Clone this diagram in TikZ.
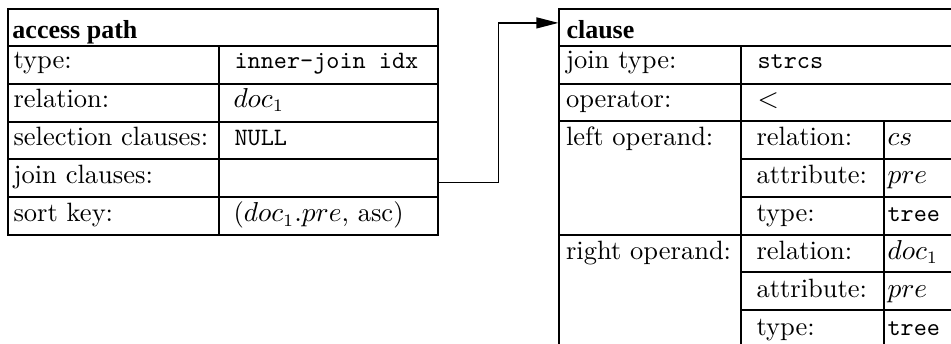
\documentclass[tikz,border=0pt]{standalone}
\usepackage{fontspec}
\newfontfamily\recheadfont{Liberation Serif}
\usetikzlibrary{fit,calc,arrows.meta}
\newcommand\valtt[1]{{\fontsize{10}{12}\selectfont\ttfamily #1}}
\tikzset{
  cell/.style={draw, line width=0.5pt, inner sep=0pt, rectangle},
  lbl/.style={anchor=base west, inner sep=0pt, font=\fontsize{10.6}{12}\selectfont},
  hdr/.style={lbl, font=\fontsize{10.4}{12}\selectfont\recheadfont\bfseries},
  link/.style={line width=0.5pt, -{Triangle[length=8.8pt,width=4.4pt]}}
}
\begin{document}
\begin{tikzpicture}[x=0.4pt,y=-0.4pt]
\useasboundingbox (0,0) rectangle (951,344);
\clip (0,0) rectangle (951,344);

% ---- access path record ----
\node[cell, fit={(8,9)(438,46)}]    (aphead) {};
\node[cell, fit={(8,46)(219,84)}]   (aptypek) {};
\node[cell, fit={(219,46)(438,84)}] (aptypev) {};
\node[cell, fit={(8,84)(219,122)}]   (aprelk) {};
\node[cell, fit={(219,84)(438,122)}] (aprelv) {};
\node[cell, fit={(8,122)(219,159)}]   (apselk) {};
\node[cell, fit={(219,122)(438,159)}] (apselv) {};
\node[cell, fit={(8,159)(219,197)}]   (apjoink) {};
\node[cell, fit={(219,159)(438,197)}] (apjoinv) {};
\node[cell, fit={(8,197)(219,235)}]   (apsortk) {};
\node[cell, fit={(219,197)(438,235)}] (apsortv) {};

\node[hdr] (t-ap) at (12,38.5) {access path};
\node[lbl] (t-aptype) at (13,69) {type:};
\node[lbl] (t-aptypev) at (234,69) {\valtt{inner-join idx}};
\node[lbl] (t-aprel) at (13,107.5) {relation:};
\node[lbl] (t-aprelv) at (233,107.5) {$doc_1$};
\node[lbl] (t-apsel) at (13,146) {selection clauses:};
\node[lbl] (t-apselv) at (234,146) {\valtt{NULL}};
\node[lbl] (t-apjoin) at (13,184) {join clauses:};
\node[lbl] (t-apsort) at (13,222) {sort key:};
\node[lbl] (t-apsortv) at (233,222) {($doc_1.pre$, asc)};

% ---- clause record ----
\node[cell, fit={(559,9)(975,46)}]    (clhead) {};
\node[cell, fit={(559,46)(741,84)}]   (cljtk) {};
\node[cell, fit={(741,46)(975,84)}]   (cljtv) {};
\node[cell, fit={(559,84)(741,121)}]  (clopk) {};
\node[cell, fit={(741,84)(975,121)}]  (clopv) {};
\node[cell, fit={(559,121)(741,235)}] (cllk) {};
\node[cell, fit={(741,121)(884,159)}] (cllrk) {};
\node[cell, fit={(884,121)(975,159)}] (cllrv) {};
\node[cell, fit={(741,159)(884,197)}] (cllak) {};
\node[cell, fit={(884,159)(975,197)}] (cllav) {};
\node[cell, fit={(741,197)(884,235)}] (clltk) {};
\node[cell, fit={(884,197)(975,235)}] (clltv) {};
\node[cell, fit={(559,235)(741,349)}] (clrk) {};
\node[cell, fit={(741,235)(884,272)}] (clrrk) {};
\node[cell, fit={(884,235)(975,272)}] (clrrv) {};
\node[cell, fit={(741,272)(884,310)}] (clrak) {};
\node[cell, fit={(884,272)(975,310)}] (clrav) {};
\node[cell, fit={(741,310)(884,349)}] (clrtk) {};
\node[cell, fit={(884,310)(975,349)}] (clrtv) {};

\node[hdr] (t-cl) at (566,38.5) {clause};
\node[lbl] (t-cljt) at (565.5,69) {join type:};
\node[lbl] (t-cljtv) at (757,69) {\valtt{strcs}};
\node[lbl] (t-clop) at (565.5,107.5) {operator:};
\node[lbl] (t-clopv) at (757,107.5) {$<$};
\node[lbl] (t-cll) at (565.5,146) {left operand:};
\node[lbl] (t-cllr) at (756,146) {relation:};
\node[lbl] (t-cllrv) at (887,146) {$cs$};
\node[lbl] (t-clla) at (756,184) {attribute:};
\node[lbl] (t-cllav) at (887,184) {$pre$};
\node[lbl] (t-cllt) at (756,222) {type:};
\node[lbl] (t-clltv) at (887,222) {\valtt{tree}};
\node[lbl] (t-clr) at (565.5,259.5) {right operand:};
\node[lbl] (t-clrr) at (756,259.5) {relation:};
\node[lbl] (t-clrrv) at (887,259.5) {$doc_1$};
\node[lbl] (t-clra) at (756,297.5) {attribute:};
\node[lbl] (t-clrav) at (887,297.5) {$pre$};
\node[lbl] (t-clrt) at (756,335.5) {type:};
\node[lbl] (t-clrtv) at (887,335.5) {\valtt{tree}};

% ---- link from join clauses to clause ----
\coordinate (jstart) at ($(apjoinv.south east)!0.39!(apjoinv.north east)$);
\coordinate (jend) at ($(clhead.north west)!0.38!(clhead.south west)$);
\draw[link] (jstart) -| ($(jstart)!0.5!(jend)$) |- (jend);
\end{tikzpicture}
\end{document}
